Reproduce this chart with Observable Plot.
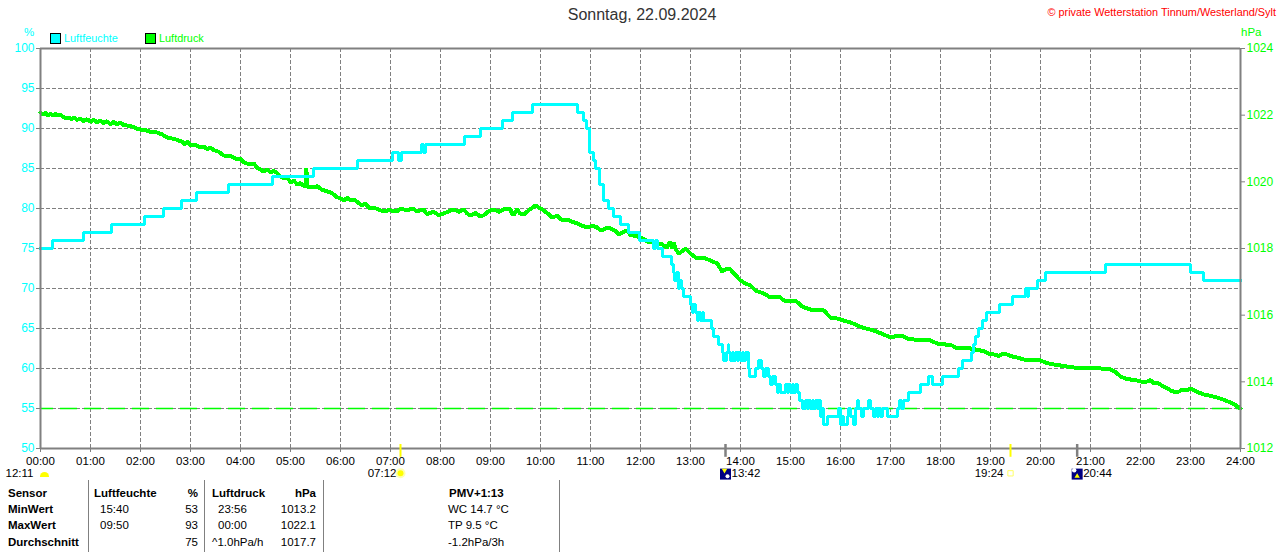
<!DOCTYPE html>
<html><head><meta charset="utf-8">
<script src="https://cdn.jsdelivr.net/npm/d3@7"></script>
<script src="https://cdn.jsdelivr.net/npm/@observablehq/plot@0.6"></script>
<style>
html,body{margin:0;padding:0;background:#fff;overflow:hidden}
#page{position:relative;width:1280px;height:552px;font-family:"Liberation Sans",Arial,sans-serif;font-size:11.5px;color:#000}
#page>svg{position:absolute;left:0;top:0}
.a{position:absolute;white-space:nowrap;line-height:14px}
.b{font-weight:bold}
.r{text-align:right;width:80px}
.v{position:absolute;top:480px;height:72px;width:1px;background:#808080}
.sq{position:absolute;top:33px;width:9px;height:9px;border:1px solid #000}
</style></head><body><div id="page"></div>
<script>
const hourTicks = [0,60,120,180,240,300,360,420,480,540,600,660,720,780,840,900,960,1020,1080,1140,1200,1260,1320,1380,1440];
const humidityTicks = [50,55,60,65,70,75,80,85,90,95,100];
const pressureTicks = [1012,1014,1016,1018,1020,1022,1024];

const humidityMinutes = [0,14,51,85,125,148,169,187,226,278,328,380,422,430,433,457,460,462,509,528,554,566,590,644,651,655,659,663,666,671,676,682,688,696,706,719,736,738,740,746,757,760,761,763,764,765,766,767,769,772,780,782,784,786,788,790,792,794,796,805,808,814,818,820,823,825,826,828,830,832,834,836,838,840,842,844,846,849,851,858,862,865,868,870,873,876,878,882,884,886,888,894,896,898,900,902,904,906,908,911,914,918,920,922,924,926,928,930,932,934,936,938,939,944,958,960,962,964,968,970,972,976,978,980,982,985,988,994,996,1000,1002,1004,1006,1008,1010,1016,1028,1031,1033,1036,1042,1056,1066,1070,1082,1102,1106,1117,1120,1122,1126,1130,1135,1151,1166,1182,1184,1186,1196,1206,1278,1380,1396,1440];
const humidityValues = [75,76,77,78,79,80,81,82,83,84,85,86,87,86,87,88,87,88,89,90,91,92,93,92,91,90,87,86,85,83,81,80,79,78,77,76,75,76,75,74,73,72,71,72,71,72,70,71,70,69,68,67,68,67,66,67,66,67,66,65,64,63,62,61,62,63,62,61,62,61,62,61,62,61,62,61,62,60,59,60,61,60,59,60,59,58,59,58,57,58,57,58,57,58,57,58,57,58,57,56,55,56,55,56,55,56,55,56,55,56,54,55,53,54,55,53,54,53,54,55,54,53,55,56,55,54,55,56,55,54,55,54,55,54,55,54,55,56,55,56,57,58,59,58,59,60,61,62,63,64,65,66,67,68,69,70,69,70,71,72,73,72,71,71];

const pressureMinutes = [0,3,6,9,12,15,18,20,24,28,34,37,40,44,48,52,56,60,64,68,72,76,80,84,88,92,96,100,104,110,115,120,126,132,140,146,152,158,164,170,173,176,180,185,192,196,200,204,208,214,220,228,236,240,244,252,256,260,264,268,272,276,280,284,288,292,296,300,304,308,312,316,318,319,320,324,328,332,338,344,350,355,360,364,368,372,376,380,386,390,394,400,406,412,418,428,432,440,446,452,460,463,466,472,478,484,490,496,502,508,512,516,522,528,532,538,544,550,556,564,566,568,572,576,580,586,594,600,604,610,614,620,626,632,638,644,650,656,662,668,672,676,680,684,690,694,698,704,708,714,720,726,730,734,740,744,748,752,755,758,760,762,766,770,774,780,788,796,804,812,818,824,828,834,840,846,852,858,862,868,876,882,888,892,900,906,914,920,928,934,940,948,956,962,972,980,986,994,1000,1006,1012,1020,1028,1036,1042,1048,1056,1068,1076,1082,1088,1094,1100,1104,1116,1122,1128,1134,1138,1144,1150,1156,1160,1166,1172,1180,1188,1194,1200,1208,1216,1224,1232,1240,1248,1258,1268,1276,1284,1290,1296,1302,1308,1316,1322,1328,1332,1336,1340,1346,1352,1358,1364,1370,1376,1380,1386,1396,1404,1412,1420,1428,1434,1440];
const pressureValues = [1022.08,1022.02,1022.08,1021.99,1022.05,1021.98,1022.05,1021.99,1022.02,1021.93,1021.93,1021.88,1021.93,1021.86,1021.9,1021.82,1021.88,1021.8,1021.86,1021.78,1021.84,1021.76,1021.82,1021.72,1021.8,1021.72,1021.78,1021.7,1021.69,1021.66,1021.6,1021.57,1021.55,1021.5,1021.48,1021.42,1021.33,1021.3,1021.26,1021.2,1021.12,1021.2,1021.1,1021.12,1021.03,1021.06,1020.98,1021.03,1020.95,1020.9,1020.79,1020.77,1020.67,1020.7,1020.58,1020.52,1020.55,1020.42,1020.37,1020.3,1020.38,1020.28,1020.33,1020.26,1020.16,1020.1,1020.14,1019.98,1020.04,1019.92,1019.96,1019.88,1019.88,1020.4,1019.86,1019.86,1019.83,1019.87,1019.76,1019.71,1019.66,1019.55,1019.5,1019.44,1019.52,1019.44,1019.47,1019.4,1019.29,1019.35,1019.22,1019.23,1019.16,1019.11,1019.15,1019.11,1019.2,1019.14,1019.2,1019.12,1019.17,1019.05,1019.05,1019.1,1019.0,1019.05,1019.12,1019.17,1019.1,1019.17,1019.05,1018.99,1019.06,1018.96,1019.0,1019.12,1019.17,1019.1,1019.18,1019.17,1019.03,1019.02,1019.17,1019.04,1019.02,1019.15,1019.29,1019.2,1019.14,1019.02,1018.93,1018.98,1018.85,1018.87,1018.8,1018.75,1018.68,1018.63,1018.68,1018.63,1018.55,1018.57,1018.63,1018.6,1018.52,1018.42,1018.48,1018.54,1018.4,1018.38,1018.33,1018.25,1018.18,1018.22,1018.12,1018.15,1018.09,1018.02,1018.2,1018.0,1018.18,1017.98,1017.85,1017.92,1018.0,1017.85,1017.7,1017.72,1017.64,1017.55,1017.31,1017.4,1017.37,1017.2,1017.04,1016.95,1016.89,1016.74,1016.7,1016.65,1016.53,1016.56,1016.53,1016.44,1016.44,1016.44,1016.26,1016.2,1016.14,1016.16,1016.14,1015.93,1015.9,1015.85,1015.78,1015.7,1015.63,1015.58,1015.54,1015.48,1015.42,1015.33,1015.38,1015.36,1015.28,1015.27,1015.25,1015.24,1015.15,1015.15,1015.1,1015.09,1015.0,1015.03,1015.0,1014.97,1014.94,1014.9,1014.84,1014.82,1014.78,1014.85,1014.82,1014.76,1014.73,1014.67,1014.64,1014.66,1014.64,1014.56,1014.52,1014.49,1014.46,1014.43,1014.43,1014.41,1014.43,1014.38,1014.37,1014.3,1014.16,1014.1,1014.07,1014.04,1014.0,1014.01,1014.05,1013.95,1013.98,1013.88,1013.8,1013.72,1013.68,1013.76,1013.74,1013.8,1013.72,1013.62,1013.58,1013.53,1013.46,1013.38,1013.3,1013.2];

const humidityReference = [55];
const sunMinutes = [432,1164];
const moonMinutes = [822,1244];
const timeLabels = ["12:11","07:12","13:42","19:24","20:44"];
const timeLabelMinutes = [0,432,822,1164,1244];

const GREY="#808080", CYAN="#00ffff", GREEN="#00ff00", FONT='"Liberation Sans",Arial,sans-serif';
const toHumidityScale = h => 50 + (h-1012)*50/12;
const fmtHour = m => String(m/60).padStart(2,"0")+":00";
const humidity = humidityMinutes.map((m,i)=>({m,v:humidityValues[i]}));
const pressure = pressureMinutes.map((m,i)=>({m,v:toHumidityScale(pressureValues[i])}));
const labels = timeLabels.map((t,i)=>({t,m:timeLabelMinutes[i]}));
const iconY = 46.9;
const labelAt = (minute,dx,anchor)=>Plot.text(labels.filter(d=>d.m===minute),{x:"m",y:()=>iconY,text:"t",textAnchor:anchor,dx,fill:"#000",fontSize:11.5});

const chart = Plot.plot({
  width:1280,height:480,marginLeft:40,marginRight:40,marginTop:48,marginBottom:32,
  style:{background:"transparent",fontFamily:FONT,fontSize:"11.5px",overflow:"visible"},
  x:{domain:[0,1440],axis:null},
  y:{domain:[50,100],axis:null},
  marks:[
    Plot.ruleX(hourTicks.slice(1,-1),{stroke:GREY,strokeWidth:1,strokeDasharray:"4 2",y1:50,y2:100}),
    Plot.ruleY(humidityTicks.slice(1,-1),{stroke:GREY,strokeWidth:1,strokeDasharray:"4 2",x1:0,x2:1440}),
    Plot.ruleY(humidityReference,{stroke:GREEN,strokeWidth:1.5,strokeDasharray:"17 7",strokeDashoffset:4,x1:0,x2:1440}),
    Plot.axisX({ticks:hourTicks,tickFormat:fmtHour,tickSize:4,tickPadding:4,stroke:GREY,fill:"#000",fontSize:11.5,label:null}),
    Plot.axisY({anchor:"left",ticks:humidityTicks,tickSize:4,tickPadding:2,stroke:GREY,fill:CYAN,fontSize:12,tickFormat:d=>String(d),label:null}),
    Plot.axisY({anchor:"right",ticks:pressureTicks.map(toHumidityScale),tickSize:4,tickPadding:2,stroke:GREY,fill:GREEN,fontSize:12,tickFormat:d=>String(Math.round(1012+(d-50)*12/50)),label:null}),
    Plot.line(pressure,{x:"m",y:"v",stroke:GREEN,strokeWidth:4,strokeLinejoin:"miter",shapeRendering:"crispEdges"}),
    Plot.line(humidity,{x:"m",y:"v",curve:"step-after",stroke:CYAN,strokeWidth:3,strokeLinejoin:"miter",strokeLinecap:"square",shapeRendering:"crispEdges"}),
    Plot.ruleX([0,1440],{y1:50,y2:100,stroke:GREY,strokeWidth:2}),
    Plot.ruleY([50,100],{x1:0,x2:1440,stroke:GREY,strokeWidth:2}),
    Plot.ruleX(sunMinutes,{y1:50.5,y2:48.9,stroke:"#ffff00",strokeWidth:2}),
    Plot.ruleX(moonMinutes,{y1:50.5,y2:48.9,stroke:GREY,strokeWidth:2.5}),
    labelAt(0,-7,"end"),
    labelAt(432,-4,"end"),
    labelAt(822,6,"start"),
    labelAt(1164,-7,"end"),
    labelAt(1244,6,"start"),
    Plot.dot(sunMinutes.slice(0,1),{x:d=>d,y:()=>iconY,r:5,fill:"#ffffb0"}),
    Plot.dot(sunMinutes.slice(0,1),{x:d=>d,y:()=>iconY,r:3,fill:"#ffff00"}),
    Plot.dot(sunMinutes.slice(1),{x:d=>d,y:()=>iconY,symbol:"square",r:3,fill:"none",stroke:"#ffff66",strokeWidth:1}),
    Plot.dot(moonMinutes,{x:d=>d,y:()=>iconY-0.1,symbol:"square",r:6.2,fill:"#000080"}),
    Plot.dot(moonMinutes.slice(0,1),{x:d=>d,y:()=>iconY,dx:2,dy:3,r:2,fill:"#fff"}),
    Plot.dot(moonMinutes.slice(0,1),{x:d=>d,y:()=>iconY,dx:-1,dy:-3,symbol:"triangle",r:2,rotate:180,fill:"#ffff00"}),
    Plot.dot(moonMinutes.slice(1),{x:d=>d,y:()=>iconY,dx:-3,dy:-3,r:2.2,fill:"#fff"}),
    Plot.dot(moonMinutes.slice(1),{x:d=>d,y:()=>iconY,dx:0,dy:3,symbol:"triangle",r:2,fill:"#ffff00"})
  ]
});
const page=document.getElementById("page");
page.appendChild(chart);
const add=(cls,style,text)=>{const d=document.createElement("div");d.className=cls;d.style.cssText=style;if(text)d.textContent=text;page.appendChild(d);return d;};
add("a","left:0;width:1284px;text-align:center;top:6px;font-size:16px;line-height:18px;color:#333","Sonntag, 22.09.2024");
add("a","right:4px;top:5px;color:#ff0000;font-size:10.9px","© private Wetterstation Tinnum/Westerland/Sylt");
add("a",`left:24px;top:25px;color:${CYAN}`,"%");
add("a",`left:1241px;top:25px;color:${GREEN}`,"hPa");
add("sq",`left:50px;background:${CYAN}`);
add("a",`left:64px;top:31px;font-size:10.9px;color:${CYAN}`,"Luftfeuchte");
add("sq",`left:145px;background:${GREEN}`);
add("a",`left:159px;top:31px;font-size:10.9px;color:${GREEN}`,"Luftdruck");
add("","position:absolute;left:40px;top:472px;width:9px;height:5px;background:#ffff00;border-radius:5px 5px 0 0");
[88,204,323,559].forEach(x=>add("v",`left:${x}px`));
const rows=[486,502,518,535];
const left=[["Sensor",8,0,1],["MinWert",8,1,1],["MaxWert",8,2,1],["Durchschnitt",8,3,1],
 ["Luftfeuchte",94,0,1],["15:40",100,1,0],["09:50",100,2,0],
 ["Luftdruck",212,0,1],["23:56",218,1,0],["00:00",218,2,0],["^1.0hPa/h",212,3,0],
 ["PMV+1:13",449,0,1],["WC 14.7 °C",448,1,0],["TP 9.5 °C",448,2,0],["-1.2hPa/3h",448,3,0]];
const right=[["%",198,0,1],["53",198,1,0],["93",198,2,0],["75",198,3,0],["hPa",316,0,1],["1013.2",316,1,0],["1022.1",316,2,0],["1017.7",316,3,0]];
left.forEach(([t,x,r,b])=>add("a"+(b?" b":""),`left:${x}px;top:${rows[r]}px`,t));
right.forEach(([t,x,r,b])=>add("a r"+(b?" b":""),`left:${x-80}px;top:${rows[r]}px`,t));
</script></body></html>
